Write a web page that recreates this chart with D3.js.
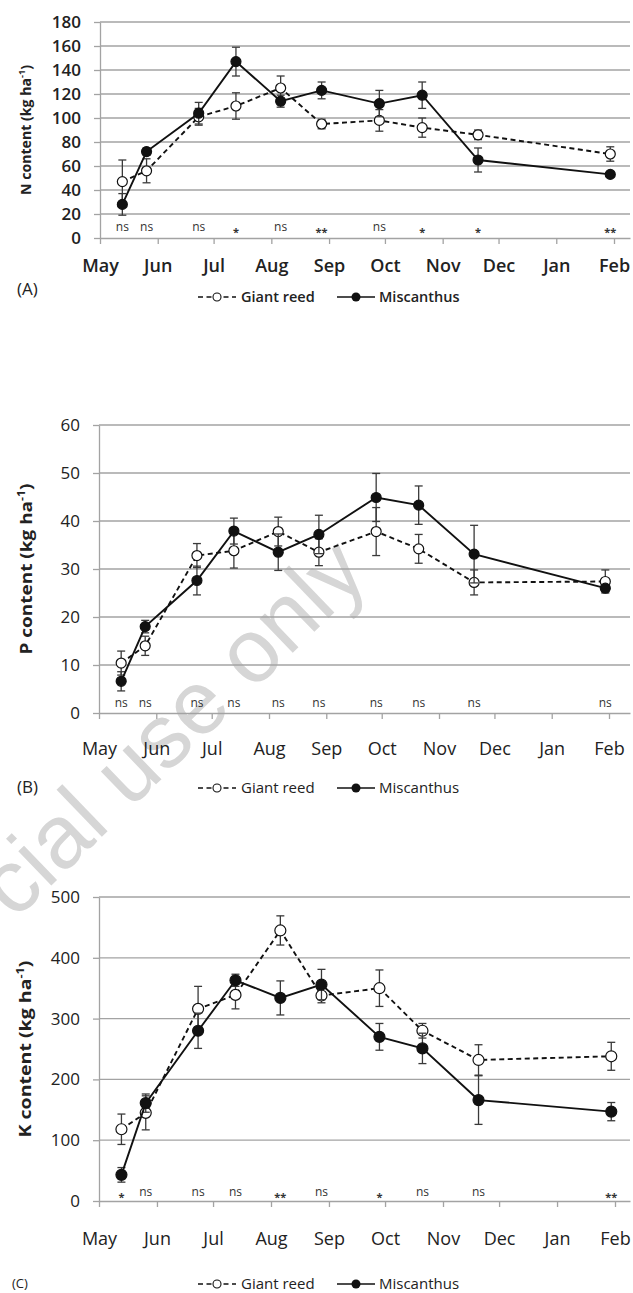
<!doctype html>
<html>
<head>
<meta charset="UTF-8">
<title>N, P and K content</title>
<script src="https://d3js.org/d3.v7.min.js"></script>
<style>
body { margin: 0; background: #fff; }
svg text { font-family: "Open Sans", sans-serif; fill: #222; }
</style>
</head>
<body>
<div id="chart"></div>
<script>
// sampling dates (x), month tick labels, legend names
const sampleDates = ["2009-05-13", "2009-05-26", "2009-06-23", "2009-07-13", "2009-08-06",
                     "2009-08-28", "2009-09-28", "2009-10-21", "2009-11-20", "2010-01-30"];
const monthLabels = ["May", "Jun", "Jul", "Aug", "Sep", "Oct", "Nov", "Dec", "Jan", "Feb"];
const seriesNames = ["Giant reed", "Miscanthus"];

// (A) N content
const nGiant    = [47, 56, 101, 110, 125, 95, 98, 92, 86, 70];
const nGiantErr = [18, 10, 7, 11, 10, 4, 9, 8, 4, 6];
const nMisc     = [28, 72, 104, 147, 114, 123, 112, 119, 65, 53];
const nMiscErr  = [9, 3, 9, 12, 5, 7, 11, 11, 10, 2];
const nSig      = ["ns", "ns", "ns", "*", "ns", "**", "ns", "*", "*", "**"];

// (B) P content
const pGiant    = [10.4, 14.0, 32.8, 33.8, 37.8, 33.5, 37.8, 34.2, 27.2, 27.4];
const pGiantErr = [2.5, 2, 2.5, 3.6, 3, 2.8, 5, 3, 2.6, 2.4];
const pMisc     = [6.6, 18.0, 27.6, 37.9, 33.5, 37.2, 44.9, 43.3, 33.1, 26.0];
const pMiscErr  = [2, 1.3, 3, 2.7, 3.8, 4, 5, 4, 6, 0.7];
const pSig      = ["ns", "ns", "ns", "ns", "ns", "ns", "ns", "ns", "ns", "ns"];

// (C) K content
const kGiant    = [118, 145, 316, 339, 445, 338, 350, 280, 232, 238];
const kGiantErr = [25, 28, 37, 23, 24, 12, 30, 12, 25, 23];
const kMisc     = [43, 161, 280, 363, 334, 356, 270, 251, 166, 147];
const kMiscErr  = [12, 15, 29, 10, 28, 25, 22, 25, 40, 15];
const kSig      = ["*", "ns", "ns", "ns", "**", "ns", "*", "ns", "ns", "**"];

const parse = d3.timeParse("%Y-%m-%d");
const dates = sampleDates.map(parse);
const gridColor = "#a3a3a3";

const svg = d3.select("#chart").append("svg")
    .attr("width", 633)
    .attr("height", 1293);
svg.append("rect").attr("width", 633).attr("height", 1293).attr("fill", "#fff");

// watermark (runs off the left edge, as in the scan)
svg.append("text")
    .attr("transform", "translate(371,577) rotate(-44)")
    .attr("text-anchor", "end")
    .style("font-family", "'Liberation Sans', Arial, sans-serif")
    .style("font-size", "90px")
    .style("fill", "#d6d6d6")
    .text("cial use only");

const panels = [
  {tag: "(A)", el: "N", giant: nGiant, giantErr: nGiantErr, misc: nMisc, miscErr: nMiscErr, sig: nSig,
   yMax: 180, step: 20, top: 22, bottom: 238, x0: 100, xFeb: 614, xEnd: 630,
   monthPad: 15, sigOff: 10, titleX: 31, titleSize: 14, titleLen: 130, weight: 600, legSize: 14.5,
   legendY: 297, tagX: 17, tagY: 295, tagSize: 17, r: 5},
  {tag: "(B)", el: "P", giant: pGiant, giantErr: pGiantErr, misc: pMisc, miscErr: pMiscErr, sig: pSig,
   yMax: 60, step: 10, top: 425, bottom: 713, x0: 99, xFeb: 609, xEnd: 630,
   monthPad: 23, sigOff: 9, titleX: 32, titleSize: 16, titleLen: 171, weight: 400, legSize: 15,
   legendY: 788, tagX: 17, tagY: 793, tagSize: 17, r: 5},
  {tag: "(C)", el: "K", giant: kGiant, giantErr: kGiantErr, misc: kMisc, miscErr: kMiscErr, sig: kSig,
   yMax: 500, step: 100, top: 897, bottom: 1201, x0: 99, xFeb: 615, xEnd: 630,
   monthPad: 25, sigOff: 8, titleX: 31, titleSize: 16, titleLen: 177, weight: 400, legSize: 15,
   legendY: 1284, tagX: 12, tagY: 1288, tagSize: 13, r: 5.5}
];

panels.forEach(drawPanel);

function drawPanel(cfg) {
  const g = svg.append("g");
  const t0 = parse("2009-05-01"), tFeb = parse("2010-02-01");
  const x = d3.scaleTime().domain([t0, tFeb]).range([cfg.x0, cfg.xFeb]);
  x.domain([t0, x.invert(cfg.xEnd)]).range([cfg.x0, cfg.xEnd]);
  const y = d3.scaleLinear().domain([0, cfg.yMax]).range([cfg.bottom, cfg.top]);
  const yTicks = d3.range(0, cfg.yMax + cfg.step / 2, cfg.step);

  // gridlines
  g.selectAll(".grid")
    .data(yTicks.slice(1))
    .join("line")
      .attr("x1", cfg.x0).attr("x2", cfg.xEnd)
      .attr("y1", d => y(d)).attr("y2", d => y(d))
      .attr("stroke", gridColor).attr("stroke-width", 1.3);

  // y axis
  const ya = g.append("g")
    .attr("transform", `translate(${cfg.x0},0)`)
    .call(d3.axisLeft(y).tickValues(yTicks).tickSize(6).tickPadding(13).tickSizeOuter(0));
  ya.select(".domain").attr("stroke", gridColor).attr("stroke-width", 1.3);
  ya.selectAll(".tick line").attr("stroke", gridColor).attr("stroke-width", 1.3);
  ya.selectAll(".tick text")
    .style("font-size", "17px").style("font-weight", cfg.weight)
    .style("font-family", "'Open Sans', sans-serif").attr("fill", "#222");

  // x axis
  const xa = g.append("g")
    .attr("transform", `translate(0,${cfg.bottom})`)
    .call(d3.axisBottom(x).ticks(d3.timeMonth.every(1)).tickSize(6).tickSizeOuter(0)
      .tickPadding(cfg.monthPad).tickFormat((d, i) => monthLabels[i]));
  xa.select(".domain").attr("stroke", gridColor).attr("stroke-width", 1.3);
  xa.selectAll(".tick line").attr("stroke", gridColor).attr("stroke-width", 1.3);
  xa.selectAll(".tick text")
    .style("font-size", "18px").style("font-weight", cfg.weight)
    .style("font-family", "'Open Sans', sans-serif").attr("fill", "#222");

  // y title
  const title = g.append("text")
    .attr("transform", `translate(${cfg.titleX},${(cfg.top + cfg.bottom) / 2}) rotate(-90)`)
    .attr("text-anchor", "middle")
    .attr("textLength", cfg.titleLen)
    .attr("lengthAdjust", "spacingAndGlyphs")
    .style("font-size", cfg.titleSize + "px")
    .style("font-weight", "bold");
  title.append("tspan").text(`${cfg.el} content (kg ha`);
  title.append("tspan").attr("baseline-shift", "super").style("font-size", "65%").text("-1");
  title.append("tspan").text(")");

  // significance labels
  g.selectAll(".sig")
    .data(cfg.sig)
    .join("text")
      .attr("x", (d, i) => x(dates[i]))
      .attr("y", d => cfg.bottom - cfg.sigOff + (d === "ns" ? 3 : 8))
      .attr("text-anchor", "middle")
      .style("font-size", d => d === "ns" ? "12px" : "11px")
      .style("font-weight", d => d === "ns" ? 400 : 700)
      .style("fill", "#333")
      .text(d => d);

  const series = [
    {vals: cfg.giant, err: cfg.giantErr, dash: "5,3.5", fill: "#fff"},
    {vals: cfg.misc, err: cfg.miscErr, dash: null, fill: "#111"}
  ];

  series.forEach(s => {
    const pts = s.vals.map((v, i) => ({d: dates[i], v: v, e: s.err[i]}));
    // error bars
    const eb = g.append("g").attr("stroke", "#3a3a3a").attr("stroke-width", 1.3);
    eb.selectAll("line.v").data(pts).join("line")
      .attr("x1", p => x(p.d)).attr("x2", p => x(p.d))
      .attr("y1", p => y(p.v - p.e)).attr("y2", p => y(p.v + p.e));
    eb.selectAll("line.t").data(pts).join("line")
      .attr("x1", p => x(p.d) - 4).attr("x2", p => x(p.d) + 4)
      .attr("y1", p => y(p.v + p.e)).attr("y2", p => y(p.v + p.e));
    eb.selectAll("line.b").data(pts).join("line")
      .attr("x1", p => x(p.d) - 4).attr("x2", p => x(p.d) + 4)
      .attr("y1", p => y(p.v - p.e)).attr("y2", p => y(p.v - p.e));
    // line
    g.append("path")
      .datum(pts)
      .attr("fill", "none")
      .attr("stroke", "#111")
      .attr("stroke-width", 1.9)
      .attr("stroke-dasharray", s.dash)
      .attr("d", d3.line().x(p => x(p.d)).y(p => y(p.v)));
    // markers
    g.selectAll(null).data(pts).join("circle")
      .attr("cx", p => x(p.d)).attr("cy", p => y(p.v))
      .attr("r", cfg.r)
      .attr("fill", s.fill)
      .attr("stroke", "#111").attr("stroke-width", 1.2);
  });

  // legend
  const ly = cfg.legendY;
  const lg = g.append("g");
  lg.append("line").attr("x1", 198).attr("x2", 236).attr("y1", ly).attr("y2", ly)
    .attr("stroke", "#111").attr("stroke-width", 1.6).attr("stroke-dasharray", "5,3.5");
  lg.append("circle").attr("cx", 217).attr("cy", ly).attr("r", 4)
    .attr("fill", "#fff").attr("stroke", "#111").attr("stroke-width", 1.1);
  lg.append("line").attr("x1", 337).attr("x2", 375).attr("y1", ly).attr("y2", ly)
    .attr("stroke", "#111").attr("stroke-width", 1.6);
  lg.append("circle").attr("cx", 356).attr("cy", ly).attr("r", 4.5).attr("fill", "#111");
  lg.selectAll("text").data(seriesNames).join("text")
    .attr("x", (d, i) => i === 0 ? 241 : 379)
    .attr("y", ly + 5)
    .style("font-size", cfg.legSize + "px").style("font-weight", cfg.weight)
    .text(d => d);

  // panel tag
  g.append("text")
    .attr("x", cfg.tagX).attr("y", cfg.tagY)
    .style("font-size", cfg.tagSize + "px")
    .text(cfg.tag);
}
</script>
</body>
</html>
